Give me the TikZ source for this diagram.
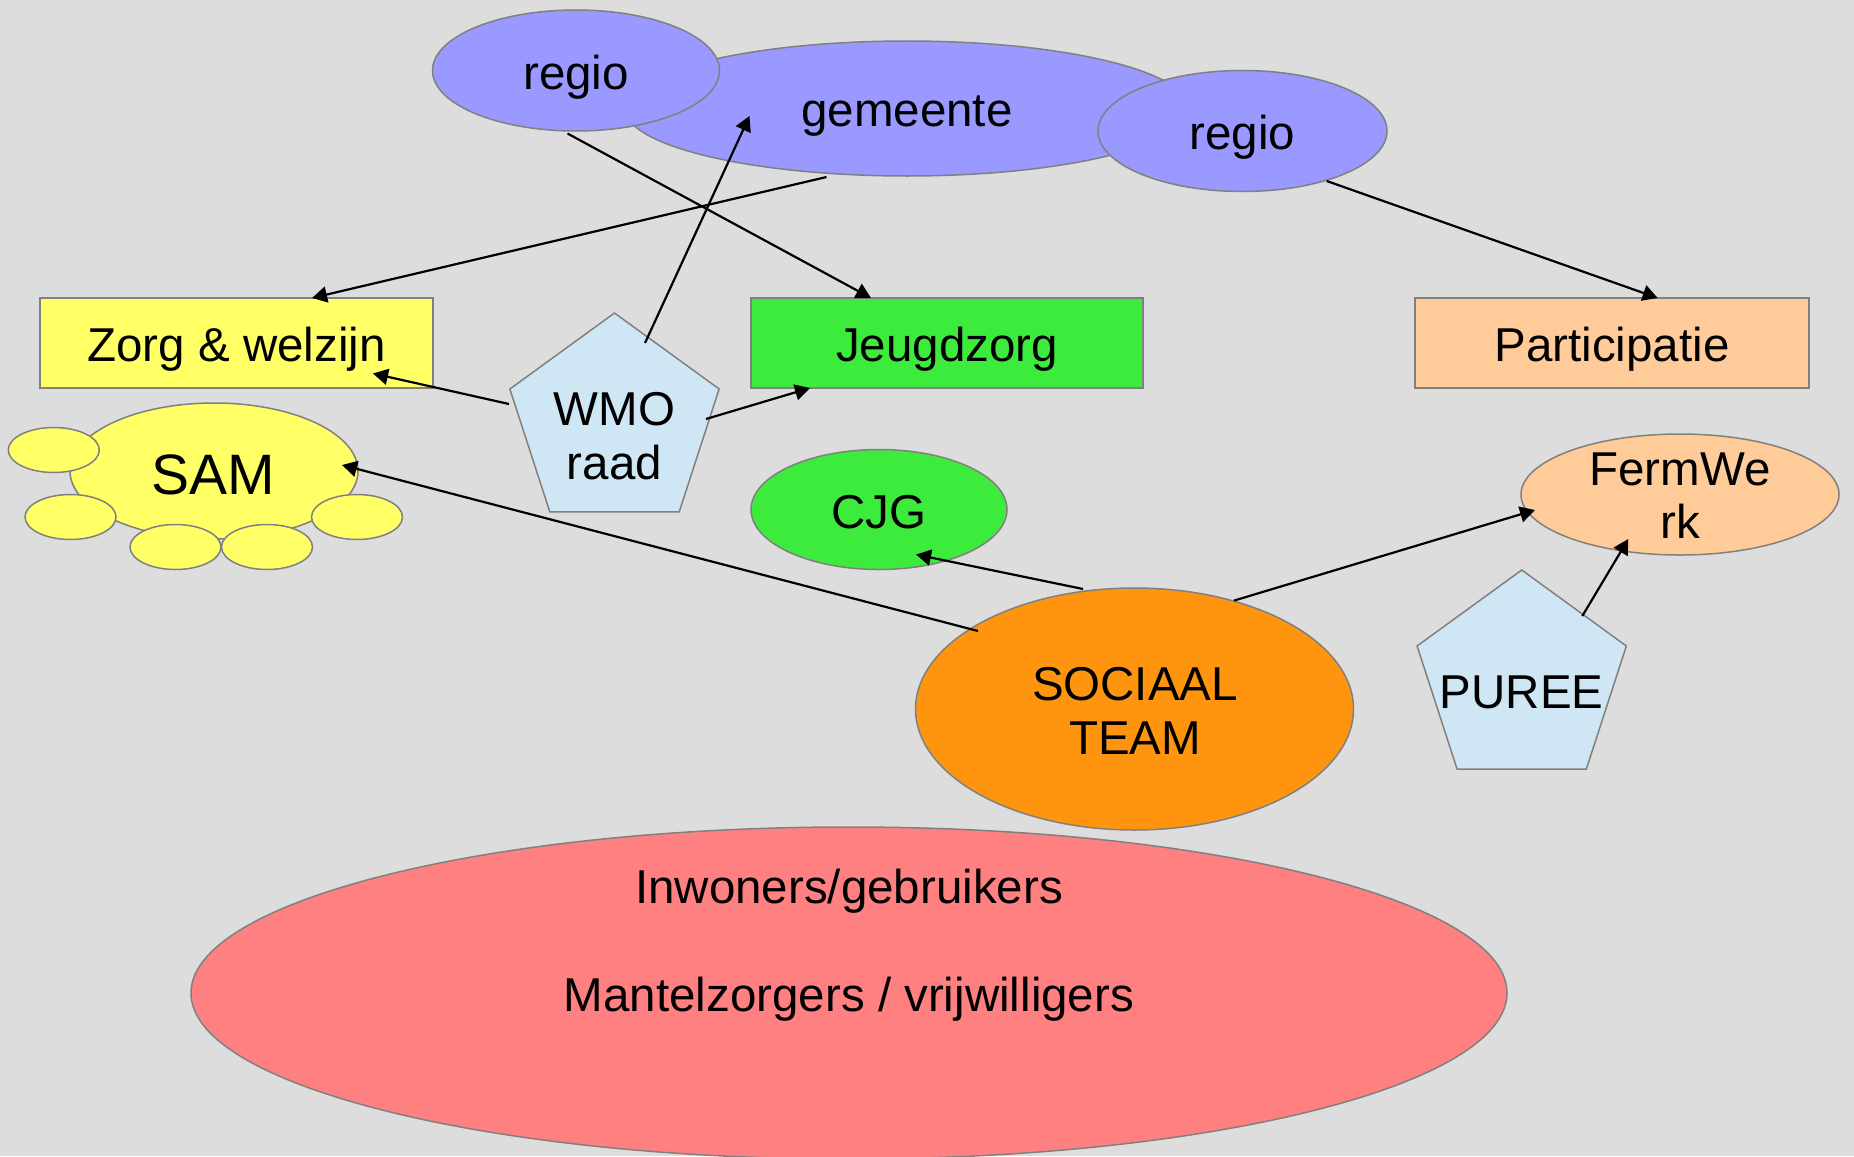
\documentclass[tikz,border=0pt]{standalone}
\usepackage{fontspec}
\setmainfont{Liberation Sans}
\usetikzlibrary{shapes.geometric,arrows.meta}
\definecolor{bgc}{HTML}{DDDDDD}
\definecolor{bord}{HTML}{808080}
\definecolor{blu}{HTML}{9999FF}
\definecolor{yel}{HTML}{FFFF66}
\definecolor{grn}{HTML}{3DEB3D}
\definecolor{pch}{HTML}{FFCC99}
\definecolor{lbl}{HTML}{CFE7F5}
\definecolor{org}{HTML}{FF950E}
\definecolor{rd}{HTML}{FF8080}
\begin{document}
\begin{tikzpicture}[x=1pt,y=-1pt,
  ell/.style={ellipse, draw=bord, line width=1.5pt, inner sep=0pt, outer sep=0pt},
  box/.style={rectangle, draw=bord, line width=1.5pt, inner sep=0pt, outer sep=0pt},
  pent/.style={regular polygon, regular polygon sides=5, minimum size=220pt, draw=bord, line width=1.5pt, inner sep=0pt, outer sep=0pt, fill=lbl},
  small/.style={ell, fill=yel, minimum width=91pt, minimum height=45pt},
  txt/.style={font=\fontsize{47.5}{54.6}\selectfont, inner sep=0pt, anchor=base},
  arr/.style={-{Triangle[length=15pt,width=16pt]}, line width=2.2pt}]
\useasboundingbox (0,0) rectangle (1854,1156);
\clip (0,0) rectangle (1854,1156);
\fill[bgc] (0,0) rectangle (1854,1156);

% top ellipses
\node[ell, fill=blu, minimum width=564pt, minimum height=135pt] (gem) at (907,108.5) {};
\node[ell, fill=blu, minimum width=287pt, minimum height=121pt] (regL) at (576,70.5) {};
\node[ell, fill=blu, minimum width=289pt, minimum height=121pt] (regR) at (1242.5,131) {};
\node[txt] (tgem) at (907,126) {gemeente};
\node[txt] (tregL) at (576,89.3) {regio};
\node[txt] (tregR) at (1242.5,149.3) {regio};

% boxes
\node[box, fill=yel, minimum width=393pt, minimum height=90pt] (zorg) at (236.5,343) {};
\node[box, fill=grn, minimum width=392pt, minimum height=90pt] (jeugd) at (947,343) {};
\node[box, fill=pch, minimum width=394pt, minimum height=90pt] (part) at (1612,343) {};
\node[txt] (tzorg) at (236.5,361) {Zorg \& welzijn};
\node[txt] (tjeugd) at (947,361) {Jeugdzorg};
\node[txt] (tpart) at (1612,361) {Participatie};

% WMO raad
\node[pent] (wmo) at (614.5,423) {};
\node[txt] (twmo1) at (614.5,425) {WMO};
\node[txt] (twmo2) at (614.5,479) {raad};

% SAM cloud
\node[ell, fill=yel, minimum width=288pt, minimum height=136pt] (sam) at (214,471) {};
\node[small] (s1) at (53.8,450) {};
\node[small] (s2) at (70.5,517) {};
\node[small] (s3) at (175.5,547) {};
\node[small] (s4) at (267,547) {};
\node[small] (s5) at (357,517) {};
\node[txt, font=\fontsize{57}{65}\selectfont] (tsam) at (213,494) {SAM};

% CJG
\node[ell, fill=grn, minimum width=256pt, minimum height=120pt] (cjg) at (879,509.5) {};
\node[txt] (tcjg) at (879,528) {CJG};

% FermWerk
\node[ell, fill=pch, minimum width=318pt, minimum height=121pt] (ferm) at (1680,494.5) {};
\node[txt] (tferm1) at (1680,485) {FermWe};
\node[txt] (tferm2) at (1680,538.3) {rk};

% PUREE
\node[pent] (puree) at (1521.7,680) {};
\node[txt] (tpuree) at (1521.7,708.3) {PUREE};

% Sociaal team
\node[ell, fill=org, minimum width=438pt, minimum height=242pt] (soc) at (1134.5,709) {};
\node[txt] (tsoc1) at (1135,700) {SOCIAAL};
\node[txt] (tsoc2) at (1135,754) {TEAM};

% Inwoners
\node[ell, fill=rd, minimum width=1316pt, minimum height=332pt] (inw) at (849,993) {};
\node[txt] (tinw1) at (849,903.3) {Inwoners/gebruikers};
\node[txt] (tinw2) at (849,1011.7) {Mantelzorgers / vrijwilligers};

% connectors
\draw[arr] ([shift={(-80.5,68.5)}]gem.center) -- ([shift={(75.5,-45)}]zorg.center);
\draw[arr] ([shift={(-8.5,63)}]regL.center) -- ([shift={(-76,-45)}]jeugd.center);
\draw[arr] ([shift={(30.5,-80)}]wmo.center) -- ([shift={(-157.5,7.5)}]gem.center);
\draw[arr] ([shift={(84.2,50)}]regR.center) -- ([shift={(45.7,-45)}]part.center);
\draw[arr] ([shift={(-105.5,-19)}]wmo.center) -- ([shift={(136.5,30.5)}]zorg.center);
\draw[arr] ([shift={(91.5,-4)}]wmo.center) -- ([shift={(-137,45)}]jeugd.center);
\draw[arr] ([shift={(-156.5,-78)}]soc.center) -- ([shift={(128,-6)}]sam.center);
\draw[arr] ([shift={(-51.5,-120)}]soc.center) -- ([shift={(37,45)}]cjg.center);
\draw[arr] ([shift={(99.5,-108.4)}]soc.center) -- ([shift={(-145,15.5)}]ferm.center);
\draw[arr] ([shift={(60.6,-64)}]puree.center) -- ([shift={(-51.7,44.5)}]ferm.center);
\end{tikzpicture}
\end{document}
